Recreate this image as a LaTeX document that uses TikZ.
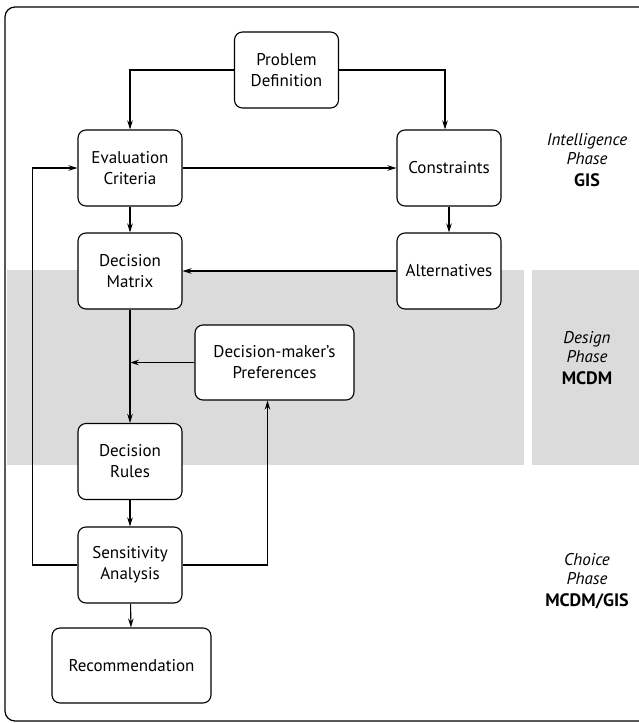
\documentclass[tikz,border=0pt]{standalone}
\usepackage{fontspec}
\setmainfont{PT Sans}
\usepackage{tikz}
\usetikzlibrary{shapes,arrows,arrows.meta,positioning,calc}
\tikzstyle{process} = [rectangle, rounded corners=8pt, minimum width=104pt, minimum height=76pt, text centered, align=center, draw=black, line width=1.1pt, fill=white, font=\fontsize{17}{21}\selectfont]
\tikzstyle{widebox} = [process, minimum width=159pt, minimum height=75pt]
\tikzstyle{phase} = [align=center, font=\fontsize{17}{20.5}\selectfont]
\tikzstyle{arrow} = [line width=1.1pt,-{Stealth[length=9pt,width=5.5pt]}]
\definecolor{band}{gray}{0.86}
\pgfdeclarelayer{background}
\pgfsetlayers{background,main}

\begin{document}
\begin{tikzpicture}[x=1pt,y=-1pt]
	\path[use as bounding box, clip] (0,0) rectangle (639,723);
	% frame and shaded design band
	\draw[line width=1.2pt, rounded corners=10pt] (5,7) rectangle (660,721);
	\begin{pgfonlayer}{background}
		\fill[band] (7,270) rectangle (524,465);
		\fill[band] (532,270) rectangle (639,465);
	\end{pgfonlayer}

	\node (pdef) [process] at (286.5,70) {Problem\\Definition};
	\node (eval) [process] at (130,168) {Evaluation\\Criteria};
	\node (cons) [process] at (449,168) {Constraints};
	\node (dmat) [process] at (130,271) {Decision\\Matrix};
	\node (alt) [process] at (449,271) {Alternatives};
	\node (pref) [widebox] at (274.5,362.5) {Decision-maker's\\Preferences};
	\node (rules) [process] at (130,461.5) {Decision\\Rules};
	\node (sens) [process] at (130,565) {Sensitivity\\Analysis};
	\node (rec) [widebox] at (131.5,665.5) {Recommendation};

	\node (intel) [phase] at (587,160) {\itshape Intelligence\\[-1pt]\itshape Phase\\[1pt]\textbf{\fontsize{18}{21}\selectfont GIS}};
	\node (design) [phase] at (587,358) {\itshape Design\\[-1pt]\itshape Phase\\[1pt]\textbf{\fontsize{18}{21}\selectfont MCDM}};
	\node (choice) [phase] at (587,581) {\itshape Choice\\[-1pt]\itshape Phase\\[1pt]\textbf{\fontsize{18}{21}\selectfont MCDM/GIS}};

	\coordinate (prefin) at (pref.west -| dmat.south);

	\draw [arrow] (pdef.west) -| (eval.north);
	\draw [arrow] (pdef.east) -| ([xshift=-4pt]cons.north);
	\draw [arrow] (eval) -- (cons);
	\draw [arrow] (eval) -- (dmat);
	\draw [arrow] (cons) -- (alt);
	\draw [arrow] (alt) -- (dmat);
	\draw [arrow] (dmat) -- (rules);
	\draw [arrow] (pref.west) -- (prefin);
	\draw [arrow] (rules) -- (sens);
	\draw [arrow] (sens) -- (rec);
	\draw [arrow] (sens.west) -- ++(-45,0) |- (eval.west);
	\draw [arrow] (sens.east) -| ([xshift=-7pt]pref.south);
\end{tikzpicture}
\end{document}
